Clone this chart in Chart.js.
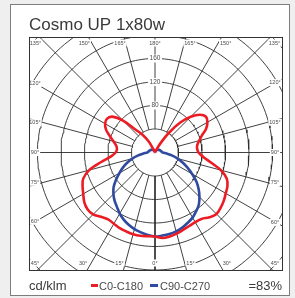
<!DOCTYPE html>
<html>
<head>
<meta charset="utf-8">
<script src="https://cdn.jsdelivr.net/npm/chart.js@4.4.1/dist/chart.umd.min.js"></script>
<style>
  html, body { margin: 0; padding: 0; background: #efefef; }
  canvas { display: block; }
</style>
</head>
<body>
<canvas id="polarChart" width="295" height="298"></canvas>
<script>
// angles from nadir (deg), intensities in cd/klm
var angles = [0, 5, 10, 15, 20, 25, 30, 35, 40, 45, 50, 55, 60, 65, 70, 75, 80, 85, 90,
              95, 100, 105, 110, 115, 120, 125, 130, 135, 140, 145, 150, 155, 160, 165, 170, 175, 180];

var redC0 = [146, 146, 145, 143, 140, 138, 137, 138, 144, 148, 146, 143, 139, 136, 130, 116, 96, 82, 74,
             72, 73, 78, 85, 96, 103, 106, 100, 86, 66, 40, 16, 4, 1, 1, 0, 0, 0];
var redC180 = [143, 143, 144, 144, 143, 142, 140, 139, 143, 149, 150, 147, 141, 136, 130, 116, 93, 75, 67,
               65, 67, 73, 82, 92, 98, 100, 95, 77, 50, 37, 22, 5, 1, 1, 0, 0, 0];
var blueC90 = [143, 142, 141, 139, 136, 132, 128, 122, 116, 107, 97, 86, 73, 61, 50, 40, 30, 20, 13,
               12, 11, 10, 10, 9, 9, 8, 7, 6, 6, 5, 5, 4, 3, 2, 1, 1, 0];
var blueC270 = [143, 141, 138, 135, 131, 126, 120, 113, 107, 100, 92, 81, 70, 60, 50, 40, 30, 20, 13,
                12, 11, 10, 10, 9, 9, 8, 7, 6, 6, 5, 5, 4, 3, 2, 1, 1, 0];

var ringValues = [40, 80, 120, 160, 200, 240, 280];
var ringLabels = [80, 120, 160];
var angleTicks = [0, 15, 30, 45, 60, 75, 90, 105, 120, 135, 150, 165, 180];

var titleText = 'Cosmo UP 1x80w';
var unitText = 'cd/klm';
var seriesNames = ['C0-C180', 'C90-C270'];
var efficiencyText = '=83%';

var red = '#ec1c24';
var blue = '#2f4a9e';
var gridColor = '#2b2b2b';

// plot frame and scale (px per cd/klm)
var pxPerUnit = 0.5875;
var frame = { left: 29, top: 37, right: 283, bottom: 270 };
var centre = { x: 155, y: 152.5 };

function rad(d) { return d * Math.PI / 180; }

// one half of a curve, side = 1 right, -1 left
function half(values, side) {
    return values.map(function (v, i) {
        var a = rad(angles[i]);
        return { x: side * v * Math.sin(a), y: -v * Math.cos(a) };
    });
}
function curve(left, right) {
    return half(left, -1).reverse().concat(half(right, 1).slice(1));
}

var datasets = [
    { label: seriesNames[0], data: curve(redC180, redC0), borderColor: red, borderWidth: 2.6, tension: 0.35, order: 0 },
    { label: seriesNames[1], data: curve(blueC270, blueC90), borderColor: blue, borderWidth: 2.6, tension: 0.35, order: 0 }
];

// rings
ringValues.forEach(function (r) {
    var pts = [];
    for (var d = 0; d <= 360; d += 2) {
        pts.push({ x: r * Math.sin(rad(d)), y: r * Math.cos(rad(d)) });
    }
    datasets.push({ data: pts, borderColor: gridColor, borderWidth: 0.9, order: 2 });
});

// radial lines from the inner ring outward
angleTicks.forEach(function (t) {
    [1, -1].forEach(function (side) {
        if ((t === 0 || t === 180) && side === -1) return;
        var a = rad(t);
        datasets.push({
            data: [
                { x: side * ringValues[0] * Math.sin(a), y: -ringValues[0] * Math.cos(a) },
                { x: side * 500 * Math.sin(a), y: -500 * Math.cos(a) }
            ],
            borderColor: gridColor, borderWidth: 0.9, order: 2
        });
    });
});

datasets.forEach(function (ds) {
    ds.showLine = true;
    ds.pointRadius = 0;
    ds.fill = false;
    ds.clip = 0;
});

var polarFrame = {
    id: 'polarFrame',
    beforeDraw: function (chart) {
        var c = chart.ctx;
        c.save();
        c.fillStyle = '#ffffff';
        c.fillRect(10, 4, 280, 292);
        c.strokeStyle = '#7d7d7d';
        c.lineWidth = 1;
        c.strokeRect(10.5, 4.5, 279, 291);
        c.restore();
    },
    afterDatasetsDraw: function (chart) {
        var c = chart.ctx;
        var area = chart.chartArea;
        var xs = chart.scales.x, ys = chart.scales.y;
        var ox = xs.getPixelForValue(0), oy = ys.getPixelForValue(0);
        c.save();
        c.textAlign = 'center';
        c.textBaseline = 'middle';

        // angle labels on the frame
        c.font = '5.5px "Liberation Sans"';
        angleTicks.forEach(function (t) {
            [1, -1].forEach(function (side) {
                if ((t === 0 || t === 180) && side === -1) return;
                var a = rad(t);
                var dx = side * Math.sin(a), dy = Math.cos(a);
                var tx = dx > 1e-6 ? (area.right - ox) / dx : dx < -1e-6 ? (area.left - ox) / dx : Infinity;
                var ty = dy > 1e-6 ? (area.bottom - oy) / dy : dy < -1e-6 ? (area.top - oy) / dy : Infinity;
                var px, py;
                if (ty <= tx) {
                    px = ox + ty * dx + (t % 180 ? side * 4 : 0);
                    py = dy > 0 ? area.bottom - 7 : area.top + 6;
                } else {
                    px = dx > 0 ? area.right - 8 : area.left + 6;
                    py = oy + tx * dy + (t === 90 ? 0 : (t < 90 ? -4 : 4));
                }
                px = Math.min(Math.max(px, area.left + 6), area.right - 8);
                py = Math.min(Math.max(py, area.top + 6), area.bottom - 7);
                var txt = t + '°';
                var w = c.measureText(txt).width;
                c.fillStyle = '#ffffff';
                c.fillRect(px - w / 2 - 1, py - 3.5, w + 2, 7);
                c.fillStyle = '#4a4a4a';
                c.fillText(txt, px, py);
            });
        });

        // ring values on the 180° line
        c.font = '6.5px "Liberation Sans"';
        ringLabels.forEach(function (v) {
            var py = ys.getPixelForValue(v);
            var txt = String(v);
            var w = c.measureText(txt).width;
            c.fillStyle = '#ffffff';
            c.fillRect(ox - w / 2 - 1.5, py - 4, w + 3, 8);
            c.fillStyle = '#4a4a4a';
            c.fillText(txt, ox, py);
        });

        // frame
        c.strokeStyle = '#333333';
        c.lineWidth = 1;
        c.strokeRect(area.left + 0.5, area.top + 0.5, area.right - area.left - 1, area.bottom - area.top);
        c.restore();
    },
    afterDraw: function (chart) {
        var c = chart.ctx;
        c.save();
        c.textBaseline = 'alphabetic';
        c.textAlign = 'left';
        c.fillStyle = '#3a3a3a';
        c.font = '17px "Liberation Sans"';
        c.fillText(titleText, 29, 30);

        c.font = '13px "Liberation Sans"';
        c.fillText(unitText, 29, 290);

        c.font = '11px "Liberation Sans"';
        c.fillStyle = red;
        c.fillRect(91, 284, 7, 3);
        c.fillStyle = '#4a4a4a';
        c.fillText(seriesNames[0], 99, 290);
        c.fillStyle = blue;
        c.fillRect(150, 284, 8, 3);
        c.fillStyle = '#4a4a4a';
        c.fillText(seriesNames[1], 160, 290);

        c.font = '13px "Liberation Sans"';
        c.textAlign = 'right';
        c.fillStyle = '#3a3a3a';
        c.fillText(efficiencyText, 282, 290);
        c.restore();
    }
};

var ctx = document.getElementById('polarChart').getContext('2d');
var polarChart = new Chart(ctx, {
    type: 'scatter',
    data: { datasets: datasets },
    options: {
        responsive: false,
        animation: false,
        events: [],
        layout: {
            padding: { left: frame.left, top: frame.top, right: 295 - frame.right, bottom: 298 - frame.bottom }
        },
        scales: {
            x: { type: 'linear', display: false,
                 min: -(centre.x - frame.left) / pxPerUnit, max: (frame.right - centre.x) / pxPerUnit },
            y: { type: 'linear', display: false,
                 min: -(frame.bottom - centre.y) / pxPerUnit, max: (centre.y - frame.top) / pxPerUnit }
        },
        plugins: {
            legend: { display: false },
            tooltip: { enabled: false }
        }
    },
    plugins: [polarFrame]
});
</script>
</body>
</html>
